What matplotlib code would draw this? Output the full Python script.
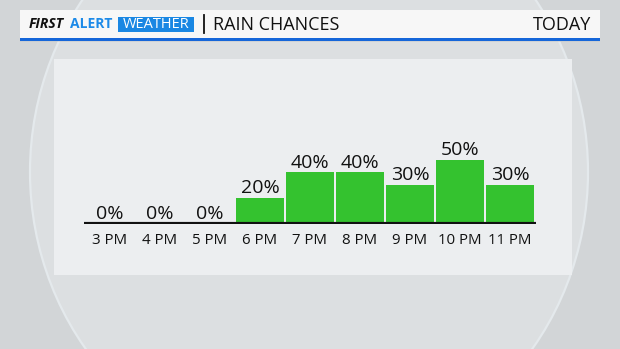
import matplotlib
matplotlib.use("Agg")
import matplotlib.pyplot as plt
from matplotlib.patches import Rectangle, Ellipse
import numpy as np

hours = ["3 PM", "4 PM", "5 PM", "6 PM", "7 PM", "8 PM", "9 PM", "10 PM", "11 PM"]
chances = [0, 0, 0, 20, 40, 40, 30, 50, 30]
value_labels = [f"{v}%" for v in chances]
title = "RAIN CHANCES"
period = "TODAY"

FONT = "Open Sans"
W, H = 620, 349
fig = plt.figure(figsize=(W / 100, H / 100), dpi=100)
fig.patch.set_facecolor("#d3d6d8")

# background decoration axes in pixel coordinates
bg = fig.add_axes([0, 0, 1, 1])
bg.set_xlim(0, W)
bg.set_ylim(H, 0)
bg.axis("off")
bg.add_patch(Rectangle((0, 0), W, H, color="#d2d5d7", zorder=0))
bg.add_patch(Ellipse((309, 172), 558, 590, facecolor="#dcdfe1",
                     edgecolor="#e4e9ec", linewidth=1.6, zorder=1))
# panel
bg.add_patch(Rectangle((54, 59), 518, 216, facecolor="#eceef0",
                       edgecolor="none", zorder=2))
# header
bg.add_patch(Rectangle((20, 11), 580, 31, facecolor="#c3c6c8",
                       edgecolor="none", zorder=2, alpha=0.5))
bg.add_patch(Rectangle((20, 10), 580, 28, facecolor="#f7f7f7",
                       edgecolor="none", zorder=3))
bg.add_patch(Rectangle((20, 38), 580, 3, facecolor="#1566d9",
                       edgecolor="none", zorder=3))
bg.add_patch(Rectangle((118, 17), 76, 14.5, facecolor="#1a87e3",
                       edgecolor="none", zorder=3))
bg.plot([204, 204], [15, 33], color="#111111", lw=1.3, zorder=4)
yc = 24.5
bg.text(29, yc, "FIRST", fontsize=10, fontweight="bold", fontstyle="italic",
        family=FONT, color="#111111", ha="left", va="center", zorder=5)
bg.text(70, yc, "ALERT", fontsize=10, fontweight="bold",
        family=FONT, color="#1d8ae8", ha="left", va="center", zorder=5)
bg.text(156, yc, "WEATHER", fontsize=10.5, fontweight="normal",
        family=FONT, color="white", ha="center", va="center", zorder=5)
bg.text(213, yc, title, fontsize=13, family=FONT, color="#111111",
        ha="left", va="center", zorder=5)
bg.text(591, yc, period, fontsize=13, family=FONT, color="#111111",
        ha="right", va="center", zorder=5)

# data axes
x0, x1 = 84, 536
base = 223.5
px_per_pct = 1.28
ax = fig.add_axes([x0 / W, (H - base) / H, (x1 - x0) / W, 100 * px_per_pct / H])
ax.set_facecolor("none")
ax.set_zorder(5)
x = np.arange(len(hours))
bars = ax.bar(x, chances, width=0.97, color="#34c22f", edgecolor="none", zorder=2)
ax.set_xlim(-0.52, len(hours) - 0.48)
ax.set_ylim(0, 100)
ax.axhline(0, color="#111111", lw=3, zorder=3, solid_capstyle="butt")
ax.bar_label(bars, labels=value_labels, padding=0.5, fontsize=14,
             family=FONT, color="#111111")
ax.set_xticks(x, hours)
ax.tick_params(axis="x", length=0, pad=7, labelsize=10.8, labelcolor="#111111")
for lbl in ax.get_xticklabels():
    lbl.set_family(FONT)
ax.set_yticks([])
for s in ax.spines.values():
    s.set_visible(False)

fig.savefig("out.png", dpi=100, facecolor=fig.get_facecolor())
